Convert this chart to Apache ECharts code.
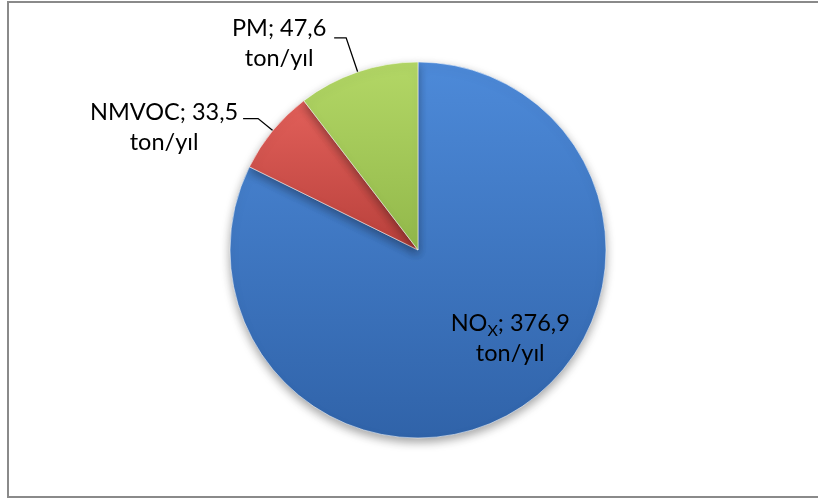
<!DOCTYPE html>
<html>
<head>
<meta charset="utf-8">
<script src="https://cdn.jsdelivr.net/npm/echarts@6/dist/echarts.min.js"></script>
<style>
html,body{margin:0;padding:0;background:#fff;}
#chart{width:818px;height:499px;}
</style>
</head>
<body>
<div id="chart"></div>
<script>
const categories = ['NOx', 'NMVOC', 'PM'];
const values = [376.9, 33.5, 47.6];
const unit = 'ton/yıl';
const displayValues = ['376,9', '33,5', '47,6'];

const chart = echarts.init(document.getElementById('chart'), null, {renderer: 'canvas'});

function grad(top, bottom) {
  return new echarts.graphic.LinearGradient(0, 0, 0, 1, [
    {offset: 0, color: top},
    {offset: 1, color: bottom}
  ]);
}
const fills = [
  grad('#4d8ad9', '#3063a9'),
  grad('#e2605a', '#b8403b'),
  grad('#b3d766', '#92b84a')
];

const FONT = 'Lato';
const baseText = {fontFamily: FONT, fontSize: 23.5, color: '#000', lineHeight: 30};

const data = categories.map((c, i) => {
  const item = {name: c, value: values[i], itemStyle: {color: fills[i]}};
  if (i === 0) {
    item.label = {
      position: 'inside',
      formatter: '{m|NO}{sub|X}{m|; ' + displayValues[i] + '}\n{c0|' + unit + '}'
    };
  } else if (i === 1) {
    item.label = {
      position: 'outside',
      padding: [18, 0, 0, 0],
      formatter: '{c1|' + c + '; ' + displayValues[i] + '}\n{c1|' + unit + '}'
    };
    item.labelLine = {length: 19, length2: 15};
  } else {
    item.label = {
      position: 'outside',
      padding: [12, 0, 0, 0],
      formatter: '{c2|' + c + '; ' + displayValues[i] + '}\n{c2|' + unit + '}'
    };
    item.labelLine = {length: 36, length2: 12};
  }
  return item;
});

const option = {
  backgroundColor: '#ffffff',
  animation: false,
  graphic: [{
    type: 'rect',
    shape: {x: 8, y: 2, width: 830, height: 495},
    style: {fill: null, stroke: '#8a8a8a', lineWidth: 2},
    silent: true,
    z: -10
  }],
  series: [{
    type: 'pie',
    center: [418, 250],
    radius: 188,
    startAngle: 90,
    clockwise: true,
    avoidLabelOverlap: false,
    itemStyle: {
      borderColor: 'rgba(255,255,255,0.55)',
      borderWidth: 1,
      shadowBlur: 10,
      shadowOffsetY: 4,
      shadowColor: 'rgba(0,0,0,0.35)'
    },
    label: {
      show: true,
      color: '#000',
      fontFamily: FONT,
      fontSize: 23.5,
      lineHeight: 30,
      distanceToLabelLine: 6,
      rich: {
        m: Object.assign({}, baseText),
        sub: {fontFamily: FONT, fontSize: 16, color: '#000', lineHeight: 16, verticalAlign: 'bottom'},
        c0: Object.assign({}, baseText),
        c1: Object.assign({}, baseText, {width: 146, align: 'center'}),
        c2: Object.assign({}, baseText, {width: 98, align: 'center'})
      }
    },
    labelLine: {
      show: true,
      lineStyle: {color: '#000', width: 1.3}
    },
    labelLayout: function (params) {
      if (params.dataIndex === 0) return {dx: 41, dy: 6};
      return {};
    },
    data: data
  }]
};
chart.setOption(option);
</script>
</body>
</html>
